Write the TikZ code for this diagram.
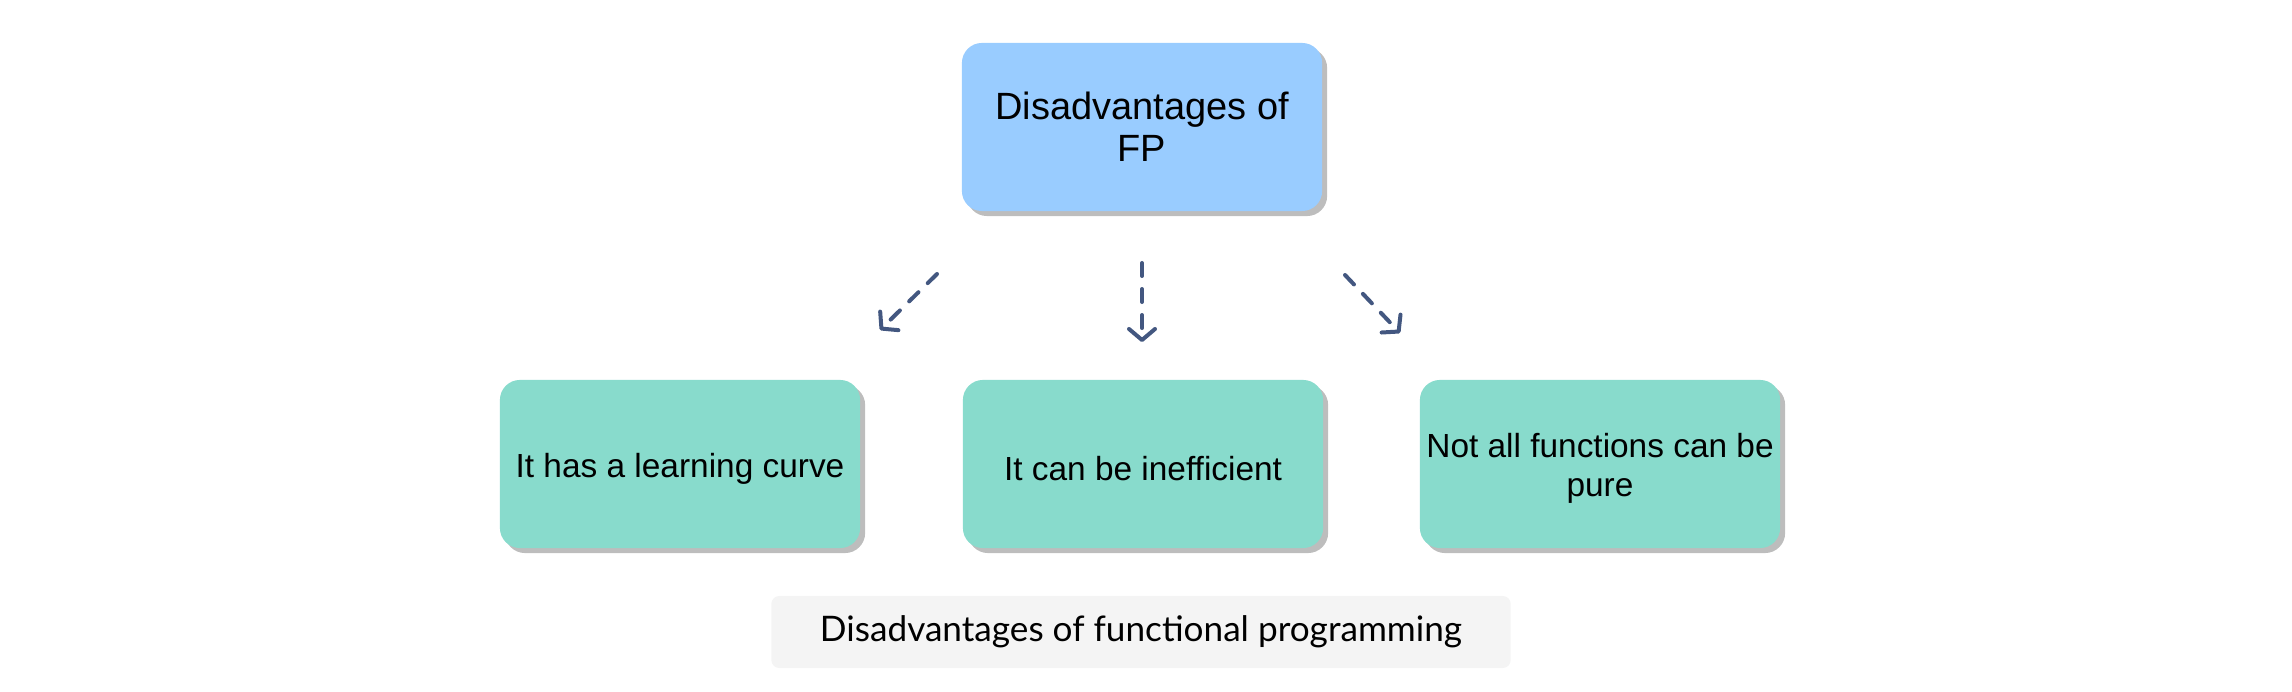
\documentclass[tikz,border=0pt]{standalone}
\usepackage{fontspec}
\setmainfont{Liberation Sans}
\newfontfamily\capfont{Lato}
\usetikzlibrary{arrows.meta}
\usetikzlibrary{positioning}
\usetikzlibrary{shadows}
\definecolor{mblue}{HTML}{99CCFF}
\definecolor{mgreen}{HTML}{88DBCC}
\definecolor{marrow}{HTML}{435780}
\definecolor{mgrey}{HTML}{F4F4F4}
\definecolor{mshadow}{HTML}{BDBDBD}
\newcommand{\lowstrut}{\rule{0pt}{0.33cm}}

\begin{document}
\begin{tikzpicture}[x=0.01cm, y=-0.01cm,
    box/.style={rounded corners=0.2cm, minimum width=3.6cm, minimum height=1.68cm,
      align=center, inner sep=0pt,
      drop shadow={shadow xshift=0.05cm, shadow yshift=-0.05cm, fill=mshadow, opacity=1}},
    dasharrow/.style={marrow, line width=0.04cm, line cap=round,
      dash pattern=on 0.13cm off 0.13cm,
      -{Straight Barb[length=0.11cm, width=0.26cm, round]}}]
    \useasboundingbox (0, 0) rectangle (2292, 692);

    \node [box, fill=mblue, font=\fontsize{10.8}{12}\selectfont] (fp) at (1142, 127) {Disadvantages of\\FP};

    \node [box, fill=mgreen, font=\fontsize{9.5}{11.1}\selectfont] (curve) at (680, 464) {\lowstrut It has a learning curve};
    \node [box, fill=mgreen, font=\fontsize{9.5}{11.1}\selectfont] (slow) at (1143, 464) {\lowstrut It can be inefficient};
    \node [box, fill=mgreen, font=\fontsize{9.5}{11.1}\selectfont] (pure) at (1600, 464) {\lowstrut Not all functions can be\\pure};

    % loose arrows between the boxes
    \coordinate (l1) at (937, 274);
    \coordinate (l2) at (880, 330);
    \coordinate (m1) at (1142, 263);
    \coordinate (m2) at (1142, 342);
    \coordinate (r1) at (1345, 275);
    \coordinate (r2) at (1400, 333);
    \draw [dasharrow] (l1) -- (l2);
    \draw [dasharrow] (m1) -- (m2);
    \draw [dasharrow] (r1) -- (r2);

    \node [fill=mgrey, rounded corners=0.08cm, minimum width=7.39cm, minimum height=0.72cm,
      inner sep=0pt, font=\capfont\fontsize{10}{12}\selectfont] (caption) at (1141, 632)
      {Disadvantages of functional programming};
  \end{tikzpicture}
\end{document}
